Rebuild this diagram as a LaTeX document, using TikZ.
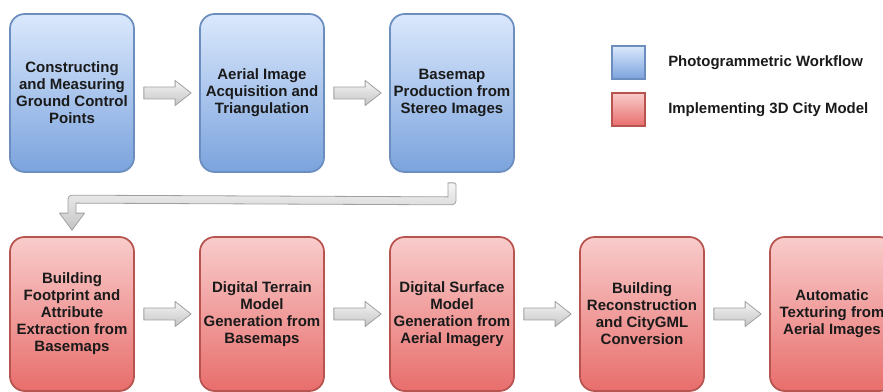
\documentclass[tikz,border=0pt]{standalone}
\usepackage{fontspec}
\setmainfont{Liberation Sans}
\usetikzlibrary{calc,shadings}
\definecolor{bluetop}{HTML}{DAE8FC}
\definecolor{bluebot}{HTML}{7BA3DD}
\definecolor{blueline}{HTML}{6C8EBF}
\definecolor{redtop}{HTML}{F8CCCB}
\definecolor{redbot}{HTML}{E86E6C}
\definecolor{redline}{HTML}{B85450}
\definecolor{arrtop}{HTML}{F5F5F5}
\definecolor{arrbot}{HTML}{C4C4C4}
\definecolor{arrline}{HTML}{A0A0A0}
\definecolor{txt}{HTML}{1A1A1A}
\tikzset{
  boxbase/.style={rectangle, rounded corners=11pt, minimum width=93pt, inner sep=0pt,
    line width=1.3pt, align=center, text=txt,
    font=\bfseries\fontsize{11.25}{12.75}\selectfont},
  bluebox/.style={boxbase, draw=blueline, top color=bluetop, bottom color=bluebot, minimum height=118.5pt},
  redbox/.style={boxbase, draw=redline, top color=redtop, bottom color=redbot, minimum height=115.5pt},
  legblue/.style={rectangle, minimum size=24.75pt, inner sep=0pt, line width=1.1pt, draw=blueline, top color=bluetop, bottom color=bluebot},
  legred/.style={rectangle, minimum size=24.75pt, inner sep=0pt, line width=1.1pt, draw=redline, top color=redtop, bottom color=redbot},
  legtext/.style={anchor=west, inner sep=0pt, text=txt, font=\bfseries\fontsize{11.2}{13}\selectfont},
  grayarrow/.style={draw=arrline, line width=0.6pt, top color=arrtop, bottom color=arrbot, line join=round}
}
\newcommand\blockarrow[2]{%
  \path ($(#1.east)+(9,0)$) coordinate (s) ($(#2.west)+(-8,0)$) coordinate (e);
  \draw[grayarrow] ($(s)+(0,-6)$) -- ($(e)+(-16,-6)$) -- ($(e)+(-16,-12.5)$) -- (e)
    -- ($(e)+(-16,12.5)$) -- ($(e)+(-16,6)$) -- ($(s)+(0,6)$) -- cycle;
}
\begin{document}
\begin{tikzpicture}[x=0.75pt,y=-0.75pt]
\useasboundingbox (0,0) rectangle (883,392);
\clip (0,0) rectangle (883,392);

\node[bluebox] (b1) at (72,93) {Constructing\\and Measuring\\Ground Control\\Points};
\node[bluebox] (b2) at (262,93) {Aerial Image\\Acquisition and\\Triangulation};
\node[bluebox] (b3) at (452,93) {Basemap\\Production from\\Stereo Images};

\node[redbox] (r1) at (72,314) {Building\\Footprint and\\Attribute\\Extraction from\\Basemaps};
\node[redbox] (r2) at (262,314) {Digital Terrain\\Model\\Generation from\\Basemaps};
\node[redbox] (r3) at (452,314) {Digital Surface\\Model\\Generation from\\Aerial Imagery};
\node[redbox] (r4) at (642,314) {Building\\Reconstruction\\and CityGML\\Conversion};
\node[redbox] (r5) at (832,314) {Automatic\\Texturing from\\Aerial Images};

\node[legblue] (lb) at (628.5,62.5) {};
\node[legred] (lr) at (628.5,109.5) {};
\node[legtext] (lbt) at (668,63) {Photogrammetric Workflow};
\node[legtext] (lrt) at (668,110) {Implementing 3D City Model};

\blockarrow{b1}{b2}
\blockarrow{b2}{b3}
\blockarrow{r1}{r2}
\blockarrow{r2}{r3}
\blockarrow{r3}{r4}
\blockarrow{r4}{r5}

% elbow arrow from b3 to r1
\draw[grayarrow]
  ($(b3.south)+(-4,10)$) [rounded corners=1.5pt] -- ($(b3.south)+(4,10)$) [rounded corners=3pt] -- ($(b3.south)+(4,32)$)
  [sharp corners] -- ($(r1.north)+(4,-33)$) -- ($(r1.north)+(4,-23)$) -- ($(r1.north)+(12.5,-23)$)
  -- ($(r1.north)+(0,-6)$) -- ($(r1.north)+(-12.5,-23)$) -- ($(r1.north)+(-4,-23)$)
  [rounded corners=3pt] -- ($(r1.north)+(-4,-41)$) [sharp corners] -- ($(b3.south)+(-4,24)$) -- cycle;
\end{tikzpicture}
\end{document}
